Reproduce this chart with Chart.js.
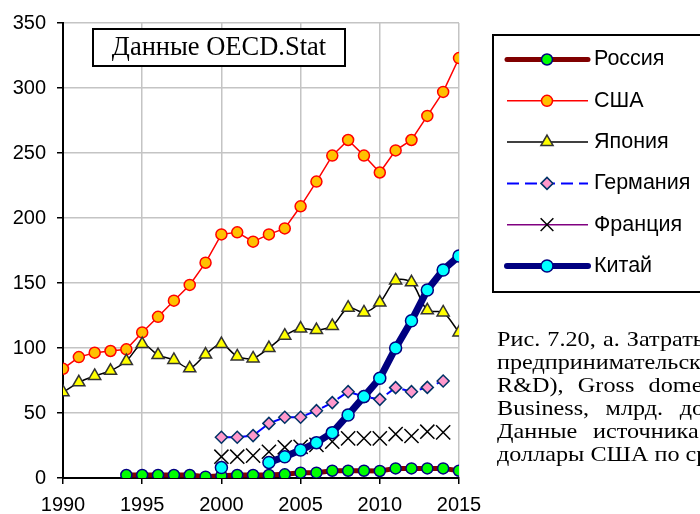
<!DOCTYPE html>
<html><head><meta charset="utf-8">
<script src="https://cdn.jsdelivr.net/npm/chart.js@4"></script>
<style>
html,body{margin:0;padding:0;background:#fff;overflow:hidden;}
#wrap{position:relative;width:700px;height:514px;overflow:hidden;}
canvas{position:absolute;left:0;top:0;}
.cap{position:absolute;left:497px;font-family:"Liberation Serif","Times New Roman",serif;font-size:22px;line-height:23px;white-space:nowrap;color:#000;transform:scaleX(1.1);transform-origin:0 0;}
</style></head>
<body><div id="wrap"><canvas id="c" width="700" height="514"></canvas>
<div class="cap" style="top:327px;word-spacing:1px">Рис. 7.20, а. Затраты</div>
<div class="cap" style="top:350px;">предпринимательском</div>
<div class="cap" style="top:373px;word-spacing:7.5px">R&amp;D), Gross domestic</div>
<div class="cap" style="top:396px;word-spacing:9.5px">Business, млрд. долларов</div>
<div class="cap" style="top:419px;word-spacing:9px">Данные источника</div>
<div class="cap" style="top:442px;">доллары США по средним</div>
</div>
<script>
const years = [1990,1991,1992,1993,1994,1995,1996,1997,1998,1999,2000,2001,2002,2003,2004,2005,2006,2007,2008,2009,2010,2011,2012,2013,2014,2015];
const russia  = [null,null,null,null,2.3,2.3,2.3,2.3,2.3,1.0,1.8,2.3,2.3,2.3,2.8,4.1,4.1,5.6,5.6,5.6,5.4,7.4,7.4,7.4,7.4,5.6];
const usa     = [84,93,96.4,97.7,99,112,124,136.4,148.5,165.6,187.4,189,181.8,187.4,192,209,228,248,260,248,235,252,260,278.5,297,323];
const japan   = [66,73.6,78.5,82.5,90,103,94.6,90.8,84.4,95,103,93.5,92,100,109.5,115,113.8,117,131,127.4,135,152,150.5,129,127.4,112];
const germany = [null,null,null,null,null,null,null,null,null,null,31.3,31.3,32.6,42,46.7,46.7,51.8,58,66.4,62.6,60.5,69.5,66.4,69.7,74.6,null];
const france  = [null,null,null,null,null,null,null,null,null,null,16.4,16.4,17.2,20.2,23.6,24,25.5,28,30.5,30.5,30.5,33.8,32.3,35.6,35.1,null];
const china   = [null,null,null,null,null,null,null,null,null,null,8,null,null,12,16.4,21.5,27.2,34.9,48.5,62.6,76.7,100,121,144.6,160,170.8];
const seriesNames = ['Россия','США','Япония','Германия','Франция','Китай'];
const xTicks = [1990,1995,2000,2005,2010,2015];
const chartTitle = 'Данные OECD.Stat';

const pts = arr => years.map((y,i)=>({x:y,y:arr[i]}));

const datasets = [
 {label:seriesNames[0],data:pts(russia),borderColor:'#800000',borderWidth:5,pointStyle:'circle',pointRadius:5.5,pointBackgroundColor:'#00ff00',pointBorderColor:'#000080',pointBorderWidth:1.5,order:5},
 {label:seriesNames[1],data:pts(usa),borderColor:'#ff0000',borderWidth:1.5,pointStyle:'circle',pointRadius:5.5,pointBackgroundColor:'#ffc000',pointBorderColor:'#ff0000',pointBorderWidth:1.5,order:4},
 {label:seriesNames[2],data:pts(japan),borderColor:'#000000',borderWidth:1.5,tension:0.3,pointStyle:'triangle',pointRadius:7,pointBackgroundColor:'#ffff00',pointBorderColor:'#333333',pointBorderWidth:1.5,order:3},
 {label:seriesNames[3],data:pts(germany),borderColor:'#0000ff',borderWidth:2,borderDash:[12,6],pointStyle:'rectRot',pointRadius:6,pointBackgroundColor:'#ff99cc',pointBorderColor:'#003366',pointBorderWidth:1.5,order:2},
 {label:seriesNames[4],data:pts(france),borderColor:'#800080',borderWidth:1.5,showLine:false,pointStyle:'crossRot',pointRadius:10,pointBackgroundColor:'#000',pointBorderColor:'#000000',pointBorderWidth:1.5,order:1},
 {label:seriesNames[5],data:pts(china),borderColor:'#000080',borderWidth:7,pointStyle:'circle',pointRadius:6,pointBackgroundColor:'#00ffff',pointBorderColor:'#000080',pointBorderWidth:1.5,order:0}
];

const decor = {
 id:'decor',
 afterDraw(chart){
  const ctx = chart.ctx;
  ctx.save();
  ctx.fillStyle='#fff'; ctx.strokeStyle='#000'; ctx.lineWidth=2;
  ctx.fillRect(93,29,252,37); ctx.strokeRect(93,29,252,37);
  ctx.fillStyle='#000'; ctx.font='26.5px "Liberation Serif","Times New Roman",serif';
  ctx.textAlign='center'; ctx.textBaseline='middle';
  ctx.fillText(chartTitle,219,48);
  ctx.strokeRect(493,35,240,257);
  ctx.font='21.5px "Liberation Sans",Arial,sans-serif';
  ctx.textAlign='left';
  chart.data.datasets.forEach((ds,i)=>{
    const y = 59.5 + i*41.3;
    ctx.save();
    ctx.strokeStyle=ds.borderColor; ctx.lineWidth=Math.min(ds.borderWidth,6);
    ctx.lineCap = ds.borderWidth>3 ? 'round':'butt';
    ctx.setLineDash(ds.borderDash||[]);
    ctx.beginPath(); ctx.moveTo(507,y); ctx.lineTo(588,y); ctx.stroke();
    ctx.setLineDash([]);
    ctx.fillStyle=ds.pointBackgroundColor; ctx.strokeStyle=ds.pointBorderColor; ctx.lineWidth=ds.pointBorderWidth;
    Chart.helpers.drawPoint(ctx,{pointStyle:ds.pointStyle,radius:ds.pointStyle==='crossRot'?9:ds.pointRadius,borderWidth:ds.pointBorderWidth,rotation:0},547,y);
    ctx.restore();
    ctx.fillStyle='#000';
    ctx.fillText(ds.label,594,y);
  });
  ctx.restore();
 }
};

new Chart(document.getElementById('c'),{
 type:'line',
 data:{datasets},
 options:{
  responsive:false,animation:false,
  layout:{padding:{left:0,top:23,right:241,bottom:0}},
  plugins:{legend:{display:false},tooltip:{enabled:false}},
  spanGaps:false,
  scales:{
   x:{type:'linear',min:1990,max:2015,
      afterBuildTicks(s){s.ticks=xTicks.map(v=>({value:v}));},
      ticks:{font:{family:'"Liberation Sans",Arial,sans-serif',size:20},color:'#000',padding:9,maxRotation:0,autoSkip:false,callback:v=>String(v)},
      grid:{color:'#c4c4c4',lineWidth:1.5,tickLength:6,tickColor:'#000'},
      border:{color:'#000',width:2},
      afterFit(s){s.height=36;}},
   y:{min:0,max:350,
      ticks:{stepSize:50,font:{family:'"Liberation Sans",Arial,sans-serif',size:20},color:'#000',padding:11},
      grid:{color:'#c4c4c4',lineWidth:1.5,tickLength:6,tickColor:'#000'},
      border:{color:'#000',width:2},
      afterFit(s){s.width=63;}}
  }
 },
 plugins:[decor]
});
</script>
</body></html>
